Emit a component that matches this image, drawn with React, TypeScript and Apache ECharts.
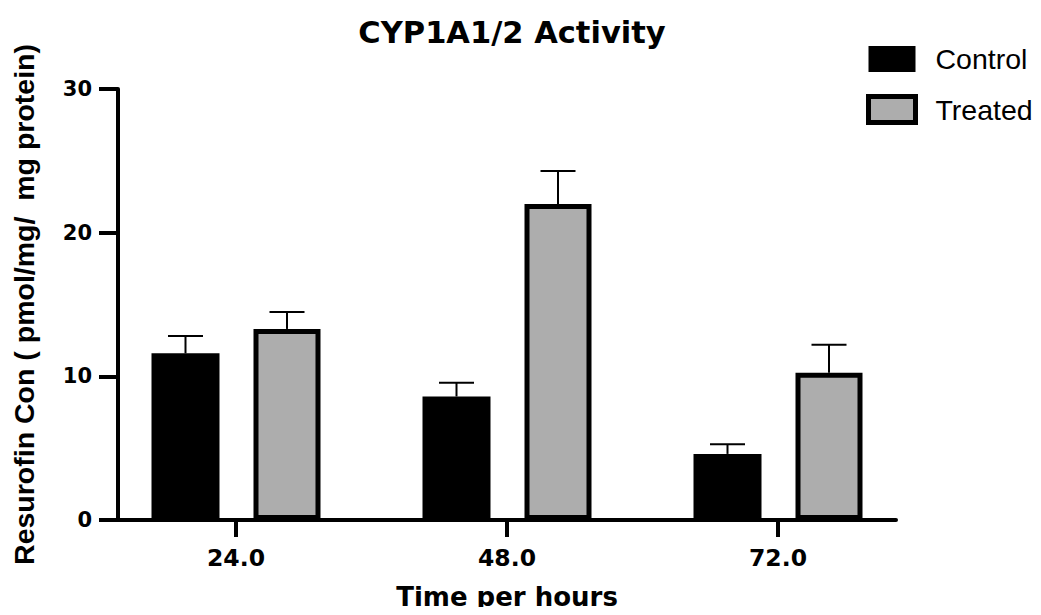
import React, { useEffect, useRef } from "react";
import * as echarts from "echarts";

const hours = [24, 48, 72];
const controlValues = [11.6, 8.6, 4.6];
const controlErrors = [1.2, 0.95, 0.67];
const treatedValues = [13.3, 22.0, 10.25];
const treatedErrors = [1.18, 2.3, 1.94];
const yTicks = [0, 10, 20, 30];
const seriesNames = ["Control", "Treated"];

const BOLD_FONT = "'DejaVu Sans', 'Liberation Sans', Arial, sans-serif";
const FONT = "'Liberation Sans', Arial, Helvetica, sans-serif";
const CW = 68; // control bar width
const TW = 67; // treated bar outer width
const GAP = 0.5;
const TOTAL = CW + CW * GAP + TW;
const OFF_C = -TOTAL / 2 + CW / 2;
const OFF_T = -TOTAL / 2 + CW + CW * GAP + TW / 2;

function errorSeries(values: number[], errors: number[], offset: number) {
  return {
    type: "custom",
    silent: true,
    z: 5,
    data: hours.map((h, i) => [h, values[i], errors[i]]),
    renderItem: (params: any, api: any) => {
      const x = api.value(0);
      const v = api.value(1);
      const e = api.value(2);
      const p0 = api.coord([x, v]);
      const p1 = api.coord([x, v + e]);
      const cx = p0[0] + offset;
      const half = 17.5;
      const style = { stroke: "#000", lineWidth: 2 };
      return {
        type: "group",
        children: [
          { type: "line", shape: { x1: cx, y1: p0[1], x2: cx, y2: p1[1] }, style },
          { type: "line", shape: { x1: cx - half, y1: p1[1], x2: cx + half, y2: p1[1] }, style },
        ],
      };
    },
  };
}

export default function App() {
  const ref = useRef<HTMLDivElement>(null);
  useEffect(() => {
    if (!ref.current) return;
    const chart = echarts.init(ref.current, undefined, { renderer: "svg" });
    chart.setOption({
      animation: false,
      backgroundColor: "#fff",
      textStyle: { fontFamily: FONT, color: "#000" },
      title: {
        text: "CYP1A1/2 Activity",
        left: 507,
        textAlign: "center",
        top: 12,
        textStyle: { fontFamily: BOLD_FONT, fontWeight: "bold", fontSize: 30.5, color: "#000" },
      },
      legend: {
        orient: "vertical",
        left: 866,
        top: 44,
        padding: 0,
        itemWidth: 47,
        itemHeight: 26,
        itemGap: 20,
        icon: "rect",
        data: [
          { name: "Control", itemStyle: { color: "#000", borderWidth: 0 } },
          { name: "Treated", itemStyle: { color: "#adadad", borderColor: "#000", borderWidth: 5 } },
        ],
        textStyle: { fontFamily: FONT, fontSize: 28.5, color: "#000", padding: [0, 0, 0, 15], lineHeight: 30 },
      },
      grid: { left: 118, right: 145, top: 89, bottom: 93, containLabel: false },
      xAxis: {
        type: "value",
        min: 13.55,
        max: 82.45,
        name: "Time per hours",
        nameLocation: "middle",
        nameGap: 64,
        nameTextStyle: { fontFamily: BOLD_FONT, fontWeight: "bold", fontSize: 26, color: "#000" },
        axisLine: { show: true, lineStyle: { color: "#000", width: 4 } },
        axisTick: { show: true, length: 17, lineStyle: { color: "#000", width: 4 }, customValues: hours },
        axisLabel: {
          customValues: hours,
          formatter: (v: number) => v.toFixed(1),
          fontFamily: BOLD_FONT,
          fontWeight: "bold",
          fontSize: 23.5,
          color: "#000",
          margin: 26,
        },
        splitLine: { show: false },
      },
      yAxis: {
        type: "value",
        min: yTicks[0],
        max: yTicks[yTicks.length - 1],
        interval: 10,
        name: "Resurofin Con ( pmol/mg/  mg protein)",
        nameLocation: "middle",
        nameGap: 80,
        nameTextStyle: { fontFamily: FONT, fontWeight: "bold", fontSize: 28.5, color: "#000" },
        axisLine: { show: true, lineStyle: { color: "#000", width: 4 } },
        axisTick: { show: true, length: 19, lineStyle: { color: "#000", width: 4 } },
        axisLabel: { fontFamily: BOLD_FONT, fontWeight: "bold", fontSize: 21, color: "#000", margin: 26 },
        splitLine: { show: false },
      },
      series: [
        {
          name: seriesNames[0],
          type: "bar",
          barWidth: CW,
          barGap: GAP,
          data: hours.map((h, i) => [h, controlValues[i]]),
          itemStyle: { color: "#000" },
        },
        {
          name: seriesNames[1],
          type: "bar",
          barWidth: TW,
          barGap: GAP,
          data: hours.map((h, i) => [h, treatedValues[i]]),
          itemStyle: { color: "#adadad", borderColor: "#000", borderWidth: 5 },
        },
        errorSeries(controlValues, controlErrors, OFF_C),
        errorSeries(treatedValues, treatedErrors, OFF_T),
      ],
    });
    return () => chart.dispose();
  }, []);
  return <div ref={ref} style={{ width: 1041, height: 615, margin: -8 }} />;
}
